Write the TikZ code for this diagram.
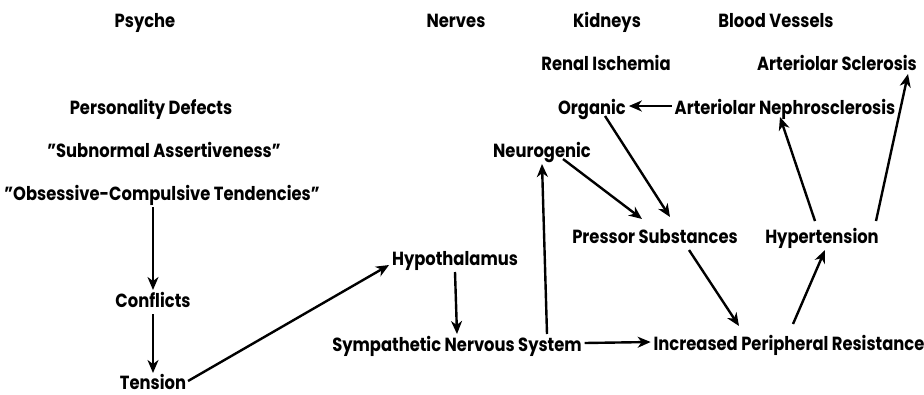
\documentclass[tikz,border=0pt]{standalone}
\usepackage{fontspec}
\setmainfont{Poppins}[FakeStretch=0.86]
\usetikzlibrary{arrows.meta}
\begin{document}
\begin{tikzpicture}[x=1pt,y=-1pt,
  lbl/.style={font=\fontsize{19}{22}\selectfont\bfseries, inner sep=0pt, outer sep=3pt, text height=14pt, text depth=4pt, anchor=center},
  arr/.style={-{Stealth[length=13pt,width=11pt,inset=4pt]}, line width=2.4pt}]
\useasboundingbox (0,0) rectangle (924,394);
\node[lbl] (psyche) at (145,22) {Psyche};
\node[lbl] (nerves) at (456,22) {Nerves};
\node[lbl] (kidneys) at (607,22) {Kidneys};
\node[lbl] (blood) at (776,22) {Blood Vessels};
\node[lbl] (renal) at (606,65) {Renal Ischemia};
\node[lbl] (artscl) at (837,65) {Arteriolar Sclerosis};
\node[lbl] (pers) at (151,109) {Personality Defects};
\node[lbl] (organic) at (592,109) {Organic};
\node[lbl] (nephro) at (785,109) {Arteriolar Nephrosclerosis};
\node[lbl] (subn) at (164,152) {"Subnormal Assertiveness"};
\node[lbl] (neuro) at (542,152) {Neurogenic};
\node[lbl] (obs) at (162,195) {"Obsessive-Compulsive Tendencies"};
\node[lbl] (pressor) at (655,238) {Pressor Substances};
\node[lbl] (hyper) at (822,238) {Hypertension};
\node[lbl] (hypo) at (455,260) {Hypothalamus};
\node[lbl] (conf) at (153,302) {Conflicts};
\node[lbl] (sns) at (457,346) {Sympathetic Nervous System};
\node[lbl] (incr) at (789,345) {Increased Peripheral Resistance};
\node[lbl, text depth=0pt, outer sep=2pt] (tension) at (153,382) {Tension};

\draw[arr] (conf.north |- obs.south) -- (conf.north);
\draw[arr] (conf) -- (tension);
\draw[arr] ([yshift=1pt]tension.east) -- ([yshift=-5pt]hypo.west);
\draw[arr] (hypo.south) -- (sns.north);
\draw[arr] ([xshift=90pt]sns.north) -- (neuro.south);
\draw[arr] ([yshift=3pt]sns.east) -- ([yshift=3pt]incr.west);
\draw[arr] ([xshift=21pt,yshift=5pt]neuro.south) -- ([xshift=-13pt,yshift=7pt]pressor.north);
\draw[arr] ([xshift=13pt,yshift=5pt]organic.south) -- ([xshift=15pt,yshift=9pt]pressor.north);
\draw[arr] ([xshift=34pt]pressor.south) -- ([xshift=-50pt,yshift=7pt]incr.north);
\draw[arr] ([xshift=4pt,yshift=9pt]incr.north) -- ([xshift=3pt]hyper.south);
\draw[arr] ([xshift=-7pt,yshift=5pt]hyper.north) -- ([xshift=-5pt,yshift=4pt]nephro.south);
\draw[arr] ([xshift=54pt,yshift=5pt]hyper.north) -- ([xshift=71pt,yshift=3pt]artscl.south);
\draw[arr] ([yshift=3pt]nephro.west) -- ([yshift=3pt]organic.east);
\end{tikzpicture}
\end{document}
